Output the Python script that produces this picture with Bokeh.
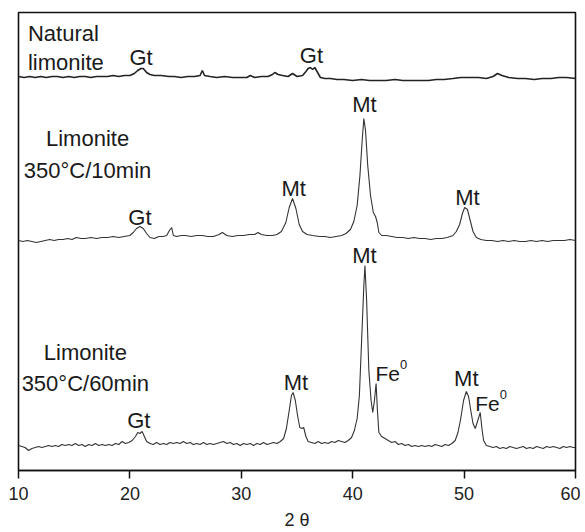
from bokeh.plotting import figure
from bokeh.models import Label, FixedTicker
from bokeh.embed import file_html
from bokeh.resources import INLINE

# ---- data (2-theta in degrees, intensity in arbitrary units) ----
tt_natural = [10.0,10.5,11.0,11.5,12.0,12.5,13.0,13.5,14.0,14.5,15.0,15.5,16.0,16.5,17.0,17.5,18.0,18.5,19.0,19.5,20.0,
              20.4,20.7,21.0,21.2,21.5,21.8,22.2,22.8,23.5,24.0,
              24.6,25.2,25.8,26.3,26.5,26.7,27.2,27.8,28.5,29.2,
              29.8,30.5,30.8,31.2,31.8,32.4,32.8,33.0,33.3,33.7,
              34.2,34.6,35.0,35.5,35.8,36.0,36.2,36.4,36.6,36.8,
              37.1,37.5,38.0,38.6,39.2,40.0,40.8,41.5,42.3,43.0,
              43.8,44.5,45.3,46.0,46.8,47.5,48.2,49.0,49.7,50.5,
              51.3,52.0,52.6,53.0,53.4,54.0,54.8,55.5,56.3,57.0,
              57.8,58.5,59.2,60.0]
int_natural = [14,13,14,13,14,13,14,14,13,14,13,14,14,13,14,14,14,15,14,15,15,
               17,20,22,22,18,16,15,15,14,14,
               13,14,14,15,20,15,14,13,14,13,
               13,13,15,13,14,14,16,18,16,15,
               14,17,14,15,19,22,23,21,23,19,
               13,12,12,11,11,10,11,10,10,10,
               11,10,10,10,10,11,11,12,13,13,
               13,12,14,17,15,13,12,12,11,12,
               12,13,13,12]

tt_10min = [10.0,10.4,10.8,11.2,11.6,12.0,12.4,12.8,13.2,13.6,14.0,14.4,14.8,15.2,15.6,
            16.0,16.5,17.0,17.5,18.0,18.5,19.0,19.5,20.0,
            20.3,20.6,20.9,21.2,21.5,21.8,22.2,22.6,23.0,23.3,
            23.55,23.75,23.9,24.2,24.6,25.0,25.5,26.0,26.5,27.0,
            27.5,28.0,28.3,28.7,29.2,29.7,30.2,30.7,31.2,31.5,
            31.8,32.3,32.8,33.2,33.6,34.0,34.3,34.6,34.9,35.2,
            35.5,35.9,36.4,37.0,37.5,38.0,38.5,39.0,39.4,39.8,
            40.1,40.4,40.65,40.85,41.0,41.15,41.35,41.6,41.85,42.05,
            42.2,42.35,42.6,43.0,43.5,44.0,44.5,45.0,45.5,46.0,
            46.5,47.0,47.5,48.0,48.5,49.0,49.3,49.6,49.85,50.05,
            50.3,50.55,50.8,51.1,51.5,52.0,52.5,53.0,53.5,54.0,
            54.5,55.0,55.5,56.0,56.5,57.0,57.5,58.0,58.5,59.0,
            59.5,60.0]
int_10min = [10,9,10,9,8,9,10,11,10,11,11,12,11,13,12,
             12,13,12,13,13,14,13,14,15,
             18,22,24,22,17,13,12,14,14,15,
             20,23,15,14,15,15,14,15,15,14,
             14,16,18,15,14,15,15,16,16,18,
             16,15,15,16,19,28,43,52,42,26,
             19,16,15,14,14,13,14,15,17,21,
             29,45,75,110,132,120,85,55,38,34,
             28,18,15,15,14,13,13,12,13,12,
             12,11,12,12,13,15,19,26,37,43,
             41,30,19,13,11,10,10,9,10,9,
             10,9,9,10,9,10,9,10,10,10,
             11,10]

tt_60min = [10.0,10.3,10.6,10.9,11.2,11.5,11.8,12.1,12.4,12.7,
            13.0,13.3,13.6,13.9,14.2,14.5,14.8,15.1,15.4,15.7,
            16.0,16.3,16.6,16.9,17.2,17.5,17.8,18.1,18.4,18.7,
            19.0,19.3,19.6,19.9,20.2,20.5,20.7,20.9,21.1,21.3,
            21.5,21.8,22.1,22.4,22.7,23.0,23.3,23.6,23.9,24.2,
            24.5,24.8,25.1,25.4,25.7,26.0,26.3,26.6,26.9,27.2,
            27.5,27.8,28.1,28.4,28.7,29.0,29.3,29.6,29.9,30.2,
            30.5,30.8,31.1,31.4,31.7,32.0,32.3,32.6,32.9,33.2,
            33.5,33.8,34.05,34.3,34.5,34.65,34.85,35.05,35.25,35.45,
            35.6,35.8,36.0,36.3,36.6,36.9,37.2,37.5,37.8,38.1,
            38.4,38.7,39.0,39.3,39.6,39.9,40.15,40.4,40.6,40.8,
            41.0,41.1,41.25,41.45,41.65,41.8,41.95,42.1,42.22,42.35,
            42.6,42.9,43.2,43.5,43.8,44.1,44.4,44.7,45.0,45.3,
            45.6,45.9,46.2,46.5,46.8,47.1,47.4,47.7,48.0,48.3,
            48.6,48.9,49.2,49.45,49.7,49.95,50.2,50.4,50.6,50.8,
            51.0,51.2,51.45,51.6,51.75,52.0,52.3,52.6,52.9,53.2,
            53.5,53.8,54.1,54.4,54.7,55.0,55.3,55.6,55.9,56.2,
            56.5,56.8,57.1,57.4,57.7,58.0,58.3,58.6,58.9,59.2,
            59.5,59.8,60.0]
int_60min = [10,9,8,5,7,8,9,8,9,10,
             9,10,9,11,10,11,10,12,10,11,
             9,11,10,12,10,11,10,11,10,12,
             11,14,12,13,15,19,23,22,24,19,
             14,12,11,13,11,12,11,13,12,13,
             12,14,12,13,11,12,11,13,11,12,
             11,12,13,14,12,13,11,12,10,12,
             11,12,10,12,11,13,11,12,13,12,
             14,17,27,45,60,63,55,40,28,27,
             28,19,14,13,12,14,12,13,12,14,
             13,15,14,13,15,18,25,37,60,115,
             170,190,155,85,55,43,55,72,45,23,
             19,17,15,13,14,11,12,10,11,9,
             10,9,10,9,10,9,11,10,9,11,
             10,12,15,23,37,55,64,59,45,32,
             27,34,43,27,15,10,9,8,9,7,
             8,7,9,8,7,8,9,7,8,7,
             9,8,7,9,8,9,8,7,9,8,
             9,8,8]

# vertical stacking offsets of the three patterns
offset_natural = 380
offset_10min = 220
offset_60min = 15

x_ticks = [10, 20, 30, 40, 50, 60]

FONT = "Liberation Sans"

p = figure(width=580, height=545, x_range=(10, 60), y_range=(0, 458), title=None,
           output_backend="svg", toolbar_location=None, y_axis_location=None,
           min_border_left=18, min_border_right=5, min_border_top=12, min_border_bottom=75)
p.grid.visible = False
p.outline_line_color = "#111111"
p.outline_line_width = 1.6
p.background_fill_color = "white"
p.border_fill_color = "white"

ax = p.xaxis[0]
ax.ticker = FixedTicker(ticks=x_ticks)
ax.minor_tick_line_color = None
ax.major_tick_in = 0
ax.major_tick_out = 8
ax.major_tick_line_width = 1.5
ax.major_tick_line_color = "#111111"
ax.axis_line_width = 1.6
ax.axis_line_color = "#111111"
ax.major_label_text_font = FONT
ax.major_label_text_font_size = "18px"
ax.major_label_text_color = "#222222"
ax.major_label_standoff = 8
ax.axis_label = "2 θ"
ax.axis_label_text_font = FONT
ax.axis_label_text_font_size = "18px"
ax.axis_label_text_font_style = "normal"
ax.axis_label_text_color = "#222222"
ax.axis_label_standoff = 7

p.line(tt_natural, [v + offset_natural for v in int_natural], line_color="#222222", line_width=1.6)
p.line(tt_10min, [v + offset_10min for v in int_10min], line_color="#333333", line_width=1.1)
p.line(tt_60min, [v + offset_60min for v in int_60min], line_color="#333333", line_width=1.1)

def lab(x, y, text, size="22px", align="center"):
    p.add_layout(Label(x=x, y=y, text=text, text_font=FONT, text_font_size=size,
                       text_color="#1a1a1a", text_align=align, text_baseline="middle"))

# sample names
lab(10.85, 437, "Natural", align="left")
lab(10.85, 408, "limonite", align="left")
lab(16.2, 332, "Limonite")
lab(16.2, 300, "350°C/10min")
lab(16.0, 118, "Limonite")
lab(16.0, 87, "350°C/60min")

# phase labels
lab(21.0, 413, "Gt")
lab(36.3, 415, "Gt")
lab(20.9, 253, "Gt")
lab(34.7, 282, "Mt")
lab(41.05, 366, "Mt")
lab(50.3, 273, "Mt")
lab(20.8, 50, "Gt")
lab(34.9, 88, "Mt")
lab(41.05, 215, "Mt")
lab(50.2, 92, "Mt")
lab(42.05, 97, "Fe", size="21px", align="left")
lab(44.25, 106, "0", size="13px", align="left")
lab(51.0, 67, "Fe", size="21px", align="left")
lab(53.2, 76, "0", size="13px", align="left")

open("out.html", "w").write(file_html(p, INLINE))
